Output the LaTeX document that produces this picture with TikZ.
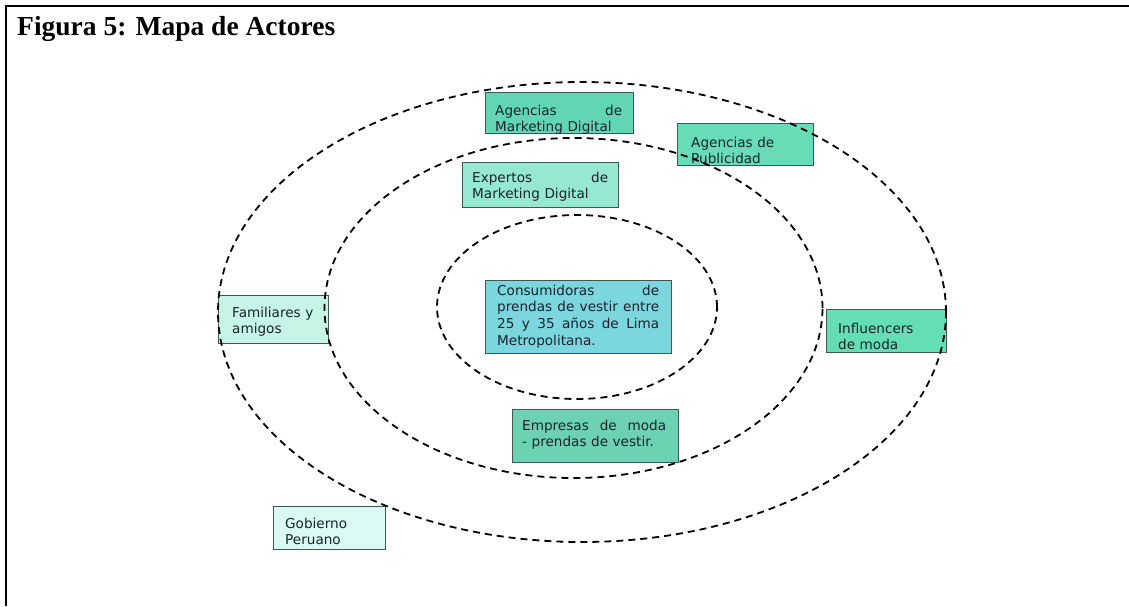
\documentclass[tikz,border=0pt]{standalone}
\usepackage{fontspec}
\setmainfont{Liberation Serif}
\newfontfamily\boxfont{DejaVu Sans}
\newfontfamily\titleserif{Liberation Serif}
\definecolor{colMkt}{RGB}{98,214,180}
\definecolor{colPub}{RGB}{104,220,182}
\definecolor{colExp}{RGB}{150,232,210}
\definecolor{colFam}{RGB}{198,245,232}
\definecolor{colCon}{RGB}{124,214,222}
\definecolor{colInf}{RGB}{100,222,180}
\definecolor{colEmp}{RGB}{108,210,178}
\definecolor{colGob}{RGB}{218,249,242}
\definecolor{boxline}{RGB}{60,90,80}
\definecolor{txtcol}{RGB}{25,35,45}
\newcommand{\jline}[1]{\leavevmode\hbox to \hsize{#1}}
\begin{document}
\begin{tikzpicture}[x=1pt,y=-1pt,
  actorbox/.style={draw=boxline, line width=0.9pt, inner sep=0pt, anchor=north west},
  lbl/.style={font={\boxfont\fontsize{13.6}{16.8}\selectfont}, text=txtcol, align=left, inner sep=0pt, anchor=base west},
  ring/.style={draw=black, line width=1.8pt, dash pattern=on 7pt off 5pt},
  frameline/.style={draw=black, line width=2.5pt}]
\useasboundingbox (0,0) rectangle (1129,606);
\fill[white] (0,0) rectangle (1129,606);
% frame
\coordinate (fbl) at (6,606);
\coordinate (ftl) at (6,6);
\coordinate (ftr) at (1129,6);
\draw[frameline] (fbl) -- (ftl) -- (ftr);
% title
\node[anchor=base west, inner sep=0pt, font={\titleserif\bfseries\fontsize{27.5}{32}\selectfont}] (title) at (17,35) {Figura 5: Mapa de Actores};
% boxes
\node[actorbox, fill=colMkt, minimum width=148pt, minimum height=41pt] (bMkt) at (485,92) {};
\node[actorbox, fill=colPub, minimum width=136pt, minimum height=42pt] (bPub) at (677,123) {};
\node[actorbox, fill=colExp, minimum width=156pt, minimum height=45pt] (bExp) at (462,162) {};
\node[actorbox, fill=colFam, minimum width=110pt, minimum height=48pt] (bFam) at (218,295) {};
\node[actorbox, fill=colCon, minimum width=186pt, minimum height=73pt] (bCon) at (485,280) {};
\node[actorbox, fill=colInf, minimum width=120pt, minimum height=43pt] (bInf) at (826,309) {};
\node[actorbox, fill=colEmp, minimum width=166pt, minimum height=53pt] (bEmp) at (512,409) {};
\node[actorbox, fill=colGob, minimum width=112pt, minimum height=43pt] (bGob) at (273,506) {};
% ellipses
\draw[ring] (582,312) ellipse [x radius=364pt, y radius=230pt];
\draw[ring] (573.5,308) ellipse [x radius=249pt, y radius=170pt];
\draw[ring] (577,307) ellipse [x radius=140pt, y radius=92pt];
% texts
\node[lbl, text width=127pt] (tMkt) at ([shift={(10,23)}]bMkt.north west) {\jline{Agencias\hfil de}\\Marketing Digital};
\node[lbl, text width=118pt] (tPub) at ([shift={(14,24)}]bPub.north west) {Agencias de\\Publicidad};
\node[lbl, text width=136pt] (tExp) at ([shift={(10,20)}]bExp.north west) {\jline{Expertos\hfil de}\\Marketing Digital};
\node[lbl, text width=92pt] (tFam) at ([shift={(14,22)}]bFam.north west) {Familiares y\\amigos};
\node[lbl, text width=162pt] (tCon) at ([shift={(12,15)}]bCon.north west) {\jline{Consumidoras\hfil de}\\\jline{prendas\hfil de\hfil vestir\hfil entre}\\\jline{25\hfil y\hfil 35\hfil años\hfil de\hfil Lima}\\Metropolitana.};
\node[lbl, text width=104pt] (tInf) at ([shift={(12,24)}]bInf.north west) {Influencers\\de moda};
\node[lbl, text width=144pt] (tEmp) at ([shift={(10,21)}]bEmp.north west) {\jline{Empresas\hfil de\hfil moda}\\- prendas de vestir.};
\node[lbl, text width=96pt] (tGob) at ([shift={(12,22)}]bGob.north west) {Gobierno\\Peruano};
\end{tikzpicture}
\end{document}
